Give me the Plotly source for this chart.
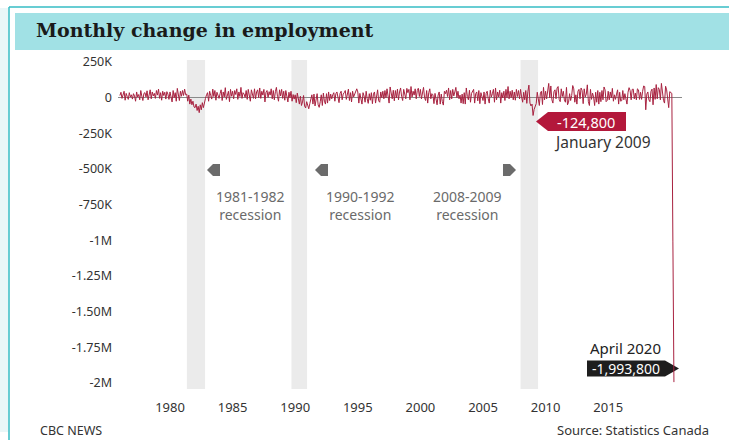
import plotly.graph_objects as go

# ---------------- data (monthly change in employment, thousands) ----------------
start_year = 1976
changes_1976_1979 = [
    15, 38, -5, 22, 45, -18, 30, 8, -12, 35, 5, 20,
    -10, 28, 12, -25, 40, 5, 22, -15, 50, 10, -20, 30,
    35, 5, 48, -15, 20, 55, -8, 40, 12, 30, -5, 50,
    18, 60, -5, 35, -18, 45, 15, 38, -10, 42, 25, -12]
changes_1980s = [
    40, 8, -30, 50, 0, 35, -25, 65, 12, -20, 45, 10,
    50, 15, 60, 20, 25, -25, 18, -45, -10, -50, -25, -65,
    -70, -45, -90, -60, -105, -50, -85, -35, -70, -20, -5, 20,
    35, -25, 45, 15, -10, 60, 8, 50, -18, 38, 12, -5,
    28, 55, -20, 40, 5, 70, -12, 32, 45, -28, 58, 10,
    45, -8, 50, 22, 62, -12, 40, 8, 72, -5, 35, 25,
    2, 50, -12, 58, 15, -25, 55, 18, -5, 62, -8, 40,
    55, 0, 68, -5, 45, 18, 58, -30, 38, 50, 2, 42,
    18, 62, -8, 50, -15, 42, 72, 8, -25, 55, 12, 58,
    -5, 45, -18, 50, 12, -30, 38, 0, 45, -25, 22, -10]
changes_1990s = [
    20, -35, 32, -22, -45, 10, -55, -30, 15, -58, -72, -28,
    -65, -78, -42, -15, 20, -45, 25, -58, -10, 28, -50, -68,
    -28, 20, -55, 32, -25, -45, 28, -38, 40, -20, 25, -8,
    20, 35, -25, 28, 40, -8, -35, 30, 45, -15, 25, 35,
    50, -12, 38, 60, -20, 35, -30, 45, 5, 25, 48, 62,
    40, -38, 30, -15, -45, 35, 12, -32, 45, -8, -40, 28,
    -18, 35, -42, 25, 40, -38, 30, 55, -22, -32, 40, 0,
    45, -8, 50, 0, 62, 5, -38, 75, 35, -8, 52, -22,
    50, -2, 60, -15, 40, 68, 8, -20, 58, 18, -8, 65,
    35, 58, -15, 78, 5, 45, 18, 62, -8, 50, 66, 8]
changes_2000s = [
    58, -8, 40, 72, 0, -20, 50, -38, 35, 62, -8, 28,
    20, -42, 30, -20, -50, 18, 40, -45, 25, -28, -52, 45,
    28, 52, 8, 68, -15, 50, -8, 58, 12, 40, 72, 0,
    45, -8, 18, -38, 25, -42, 35, -45, 68, 8, -15, 52,
    -32, 30, 45, 58, -38, 28, 40, -22, 50, -42, 35, -2,
    -20, 40, -45, 30, 45, -8, -38, 52, 5, 28, 58, -32,
    68, -15, 40, 5, 52, -38, 35, -2, 45, -20, 58, 0,
    78, -8, 45, 0, 52, -15, 40, -18, 58, 8, 50, -8,
    58, 5, -32, 38, -15, 50, -40, 42, 88, -38, -58, -45,
    -124.8, -82, -60, -42, 38, -28, -55, 32, 45, -48, 72, -15]
changes_2010s = [
    45, -8, 62, 100, -2, 82, -15, -38, 42, 55, -8, 68,
    78, -12, -28, 62, 8, 45, -15, -32, 72, -50, -32, 28,
    -20, 15, 85, 62, -32, 20, -45, 45, 58, -8, 68, 50,
    -42, 62, 5, 25, 90, -28, -55, 58, -12, 32, 5, -55,
    38, -32, 50, -45, 38, -28, 50, -15, 75, 55, -28, -20,
    45, -15, 40, -2, 65, -25, 20, -12, 25, 55, -45, 38,
    -25, -20, 50, -15, 28, -25, -45, 38, 70, 50, -15, 58,
    60, -8, 32, -15, 62, 55, -12, 38, -12, 45, 82, 78,
    -85, 25, 40, -15, -28, 45, 60, -50, 68, -12, 92, -8,
    70, 58, -15, 100, 32, -20, -38, 80, 55, -15, -70, 42]
changes_2020 = [35, 30, -1011, -1993.8]

recession_starts = [1981.35, 1989.7, 2008.0]
recession_ends = [1982.8, 1990.95, 2009.4]
recession_labels = ["1981-1982<br>recession", "1990-1992<br>recession", "2008-2009<br>recession"]

ytick_vals = [250, 0, -250, -500, -750, -1000, -1250, -1500, -1750, -2000]
ytick_text = ["250K", "0", "-250K", "-500K", "-750K", "-1M", "-1.25M", "-1.50M", "-1.75M", "-2M"]
xtick_vals = [1980, 1985, 1990, 1995, 2000, 2005, 2010, 2015]

values = changes_1976_1979 + changes_1980s + changes_1990s + changes_2000s + changes_2010s + changes_2020
xs = [start_year + i / 12 for i in range(len(values))]

# ---------------- layout geometry ----------------
W, H = 729, 440
L, R, T, B = 118, 47, 60, 51
PW, PH = W - L - R, H - T - B


def px(x):
    return (x - L) / PW


def py(y):
    return (H - B - y) / PH


FONT = "Noto Sans"

fig = go.Figure()
fig.add_trace(go.Scatter(
    x=xs, y=values, mode="lines",
    line=dict(color="#a82240", width=1),
    hoverinfo="skip", showlegend=False))

shapes = []
# outer frame pieces
shapes.append(dict(type="rect", xref="paper", yref="paper", x0=px(0), x1=px(8.5), y0=py(432), y1=py(8),
                   fillcolor="#e9f7f8", line=dict(width=0), layer="below"))
shapes.append(dict(type="line", xref="paper", yref="paper", x0=px(9), x1=px(9), y0=py(440), y1=py(7),
                   line=dict(color="#36bcc5", width=1.5), layer="below"))
shapes.append(dict(type="line", xref="paper", yref="paper", x0=px(9), x1=px(729), y0=py(7), y1=py(7),
                   line=dict(color="#36bcc5", width=1.5), layer="below"))
# title band
shapes.append(dict(type="rect", xref="paper", yref="paper", x0=px(15), x1=px(729), y0=py(50), y1=py(13),
                   fillcolor="#a1e1e5", line=dict(width=0), layer="below"))
# recession bands
for s, e in zip(recession_starts, recession_ends):
    shapes.append(dict(type="rect", xref="x", yref="paper", x0=s, x1=e, y0=0, y1=1,
                       fillcolor="#ebebeb", line=dict(width=0), layer="below"))


def path(points):
    return "M " + " L ".join(f"{px(a):.5f},{py(b):.5f}" for a, b in points) + " Z"


# red callout (Jan 2009)
shapes.append(dict(type="path", xref="paper", yref="paper",
                   path=path([(536, 121.5), (548, 112), (626, 112), (626, 131), (548, 131)]),
                   fillcolor="#b3183b", line=dict(width=0), layer="below"))
# black callout (April 2020)
shapes.append(dict(type="path", xref="paper", yref="paper",
                   path=path([(587, 360.5), (665, 360.5), (679, 368.5), (665, 376.5), (587, 376.5)]),
                   fillcolor="#1e1e1e", line=dict(width=0), layer="below"))
# recession arrow pentagons
for (cx, cy, d) in [(214, 170, -1), (322, 170, -1), (509, 170, 1)]:
    if d < 0:
        pts = [(cx - 7, cy), (cx - 1, cy - 6), (cx + 6, cy - 6), (cx + 6, cy + 6), (cx - 1, cy + 6)]
    else:
        pts = [(cx + 7, cy), (cx + 1, cy - 6), (cx - 6, cy - 6), (cx - 6, cy + 6), (cx + 1, cy + 6)]
    shapes.append(dict(type="path", xref="paper", yref="paper", path=path(pts),
                       fillcolor="#6b6b6b", line=dict(width=0), layer="below"))

ann = []


def note(text, x, y, size, color, anchor="center", family=FONT):
    ann.append(dict(text=text, x=px(x), y=py(y), xref="paper", yref="paper", showarrow=False,
                    xanchor=anchor, yanchor="middle", font=dict(family=family, size=size, color=color)))


note("<b>Monthly change in employment</b>", 34, 30, 19, "#1a1a1a", "left", "DejaVu Serif")
for (cx, lab) in zip([250, 360, 467], recession_labels):
    note(lab, cx, 205, 14, "#6a6a6a")
note("-124,800", 586, 121.5, 14.5, "white")
note("January 2009", 602, 142, 15.5, "#333333")
note("April 2020", 625, 348, 15, "#222222")
note("-1,993,800", 626, 368.5, 14, "white")
note("CBC NEWS", 38, 430, 12.5, "#333333", "left")
note("Source: Statistics Canada", 711, 430, 13, "#333333", "right")

x_lo = 1980 - (170 - L) / 12.52
x_hi = 1980 + (W - R - 170) / 12.52
y_hi = 250 + (62 - T) / 35.67 * 250
y_lo = -2000 - (H - B - 383) / 35.67 * 250

fig.update_layout(
    width=W, height=H, margin=dict(l=L, r=R, t=T, b=B),
    paper_bgcolor="white", plot_bgcolor="white",
    shapes=shapes, annotations=ann, showlegend=False,
    xaxis=dict(range=[x_lo, x_hi], tickvals=xtick_vals, ticktext=[str(v) for v in xtick_vals],
               showgrid=False, zeroline=False, showline=False, ticks="",
               tickfont=dict(family=FONT, size=13, color="#333333"), ticklabelstandoff=9),
    yaxis=dict(range=[y_lo, y_hi], tickvals=ytick_vals, ticktext=ytick_text,
               showgrid=False, zeroline=True, zerolinecolor="#8a8a8a", zerolinewidth=1,
               showline=False, ticks="", tickfont=dict(family=FONT, size=12.5, color="#333333"),
               ticklabelstandoff=5),
)

fig.write_html("out.html", config={"displayModeBar": False},
               post_script="document.body.style.margin='0';document.body.style.padding='0';")
